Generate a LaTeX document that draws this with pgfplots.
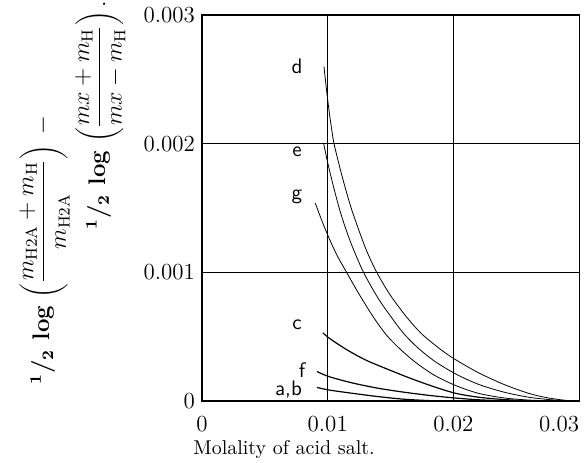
\documentclass[border=0pt]{standalone}
\usepackage{pgfplots}
\pgfplotsset{compat=1.18}

\begin{document}
\begin{tikzpicture}
\begin{axis}[
    scale only axis,
    width=188.5pt, height=193pt,
    xmin=0, xmax=0.03, ymin=0, ymax=0.003,
    scaled ticks=false,
    xtick={0,0.01,0.02,0.03},
    xticklabels={0,0.01,0.02,\makebox[0pt][r]{0.03}},
    ytick={0,0.001,0.002,0.003},
    yticklabels={0,0.001,0.002,\raisebox{-4pt}{0.003}},
    major tick length=0pt,
    grid=major,
    x grid style={black, thin},
    y grid style={black, semithick},
    axis line style={black, semithick},
    tick label style={font=\fontsize{11.5}{13}\selectfont},
    xticklabel style={yshift=-4pt},
    xlabel={Molality of acid salt.},
    xlabel style={at={(axis description cs:0.2175,0)}, anchor=north,
        yshift=-16pt, font=\fontsize{10}{12}\selectfont},
    clip=false,
]
% curves
\addplot[black, thin, smooth] coordinates {
 (0.0097,0.00260) (0.0099,0.00242) (0.0101,0.00226) (0.0103,0.00212)
 (0.0105,0.00200) (0.0110,0.00180) (0.0115,0.00162) (0.0120,0.00146)
 (0.0130,0.00119) (0.0139,0.00100) (0.0150,0.00082) (0.0163,0.00065)
 (0.0175,0.00052) (0.0190,0.00040) (0.0202,0.00032) (0.0220,0.00022)
 (0.0240,0.00013) (0.0260,0.00006) (0.0275,0.000025) (0.0290,0.000005)
 (0.0298,0.0)};
\addplot[black, thin, smooth] coordinates {
 (0.00968,0.00200) (0.0100,0.00185) (0.0105,0.00165) (0.0110,0.00147)
 (0.0115,0.00132) (0.0120,0.00119) (0.01285,0.00100) (0.0140,0.00080)
 (0.0150,0.00066) (0.0160,0.00053) (0.0171,0.00042) (0.0185,0.00031)
 (0.0202,0.00021) (0.0220,0.00013) (0.0240,0.00007) (0.0260,0.00003)
 (0.0278,0.00001) (0.0293,0.0)};
\addplot[black, thin, smooth] coordinates {
 (0.0090,0.00154) (0.0095,0.00141) (0.0100,0.00129) (0.0107,0.00114)
 (0.0115,0.00100) (0.0125,0.00083) (0.01365,0.00065) (0.0147,0.00051)
 (0.0158,0.00040) (0.0170,0.00030) (0.0185,0.00020) (0.0202,0.00012)
 (0.0220,0.00006) (0.0240,0.000025) (0.0260,0.000008) (0.0285,0.0)};
\addplot[black, semithick, smooth] coordinates {
 (0.00962,0.00053) (0.0101,0.00049) (0.0115,0.00040) (0.0130,0.00032)
 (0.0147,0.00025) (0.0165,0.00018) (0.0185,0.00011) (0.0202,0.00006)
 (0.0220,0.00003) (0.0240,0.000012) (0.0265,0.0)};
\addplot[black, semithick, smooth] coordinates {
 (0.00914,0.00023) (0.0101,0.00019) (0.0120,0.00014) (0.0140,0.00010)
 (0.0160,0.00007) (0.0180,0.000045) (0.0200,0.000025) (0.0220,0.00001)
 (0.0245,0.0)};
\addplot[black, semithick, smooth] coordinates {
 (0.00914,0.000106) (0.0101,0.000086) (0.0120,0.00006) (0.0140,0.000035)
 (0.0160,0.000015) (0.0180,0.000004) (0.0195,0.0)};

\begin{scope}[font=\sffamily\fontsize{10.5}{12}\selectfont]
\node at (axis cs:0.00755,0.0026) {d};
\node at (axis cs:0.00755,0.00194) {e};
\node at (axis cs:0.00755,0.00159) {g};
\node at (axis cs:0.00755,0.00059) {c};
\node at (axis cs:0.00795,0.00024) {f};
\node at (axis cs:0.00688,0.00009) {a,b};
\end{scope}

% two-line y label
\node[rotate=90, inner sep=1pt, font=\fontsize{12}{14}\selectfont] at (axis description cs:-0.27,0.741)
 {{\bfseries\textsuperscript{1}/\textsubscript{2} log}
  $\left(\displaystyle\frac{mx+m_{\mathrm{H}}}{mx-m_{\mathrm{H}}}\right).$};
\node[rotate=90, inner sep=1pt, font=\fontsize{12}{14}\selectfont] at (axis description cs:-0.418,0.391)
 {{\bfseries\textsuperscript{1}/\textsubscript{2} log}
  $\left(\displaystyle\frac{m_{\mathrm{H2A}}+m_{\mathrm{H}}}{m_{\mathrm{H2A}}}\right)\;-$};

\coordinate (bl) at (axis description cs:-0.536,-0.158);
\coordinate (tr) at (axis description cs:1.013,1.039);
\end{axis}
\pgfresetboundingbox
\path[use as bounding box] (bl) rectangle (tr);
\end{tikzpicture}
\end{document}
